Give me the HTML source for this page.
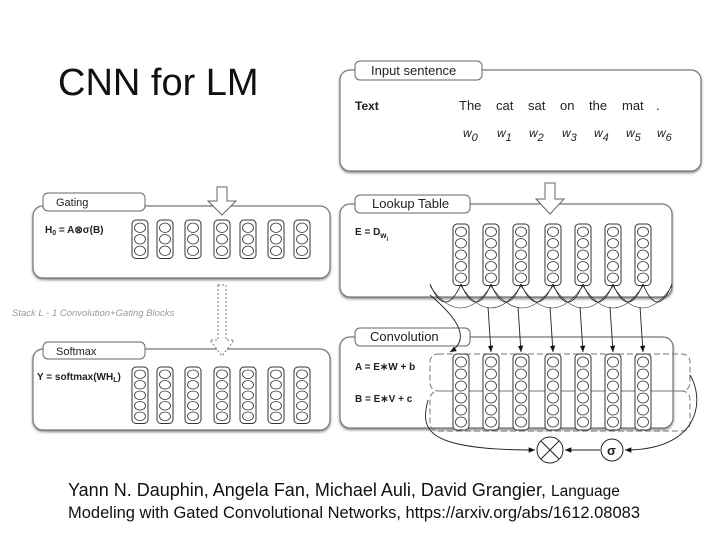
<!DOCTYPE html>
<html><head><meta charset="utf-8"><style>
body{margin:0;background:#fff;width:720px;height:540px;overflow:hidden}
svg{display:block}
text{font-family:"Liberation Sans",sans-serif}
</style></head><body>
<svg id="s" width="720" height="540" viewBox="0 0 720 540">
<defs>
<marker id="ah" markerWidth="8" markerHeight="8" refX="7" refY="4" orient="auto"><path d="M0,1 L7,4 L0,7 z" fill="#111"/></marker>
<filter id="sh" x="-5%" y="-5%" width="110%" height="115%"><feDropShadow dx="0" dy="1.5" stdDeviation="1.2" flood-color="#888"/></filter>
</defs>
<text x="58" y="95" font-size="38" fill="#111">CNN for LM</text>

<g fill="#fff" stroke="#777" stroke-width="1.2" filter="url(#sh)">
<rect x="340" y="70" width="361" height="101" rx="10"/>
<rect x="340" y="204" width="332" height="93" rx="10"/>
<rect x="340" y="337" width="333" height="91" rx="10"/>
<rect x="33" y="206" width="297" height="72" rx="10"/>
<rect x="33" y="349" width="297" height="81" rx="10"/>
</g>
<g fill="#fff" stroke="#666" stroke-width="1">
<rect x="355" y="61" width="127" height="19" rx="5"/>
<rect x="355" y="195" width="115" height="18" rx="5"/>
<rect x="355" y="328" width="115" height="18" rx="5"/>
<rect x="43" y="193" width="102" height="18" rx="5"/>
<rect x="43" y="342" width="102" height="17" rx="5"/>
</g>
<g font-size="13" fill="#222">
<text x="371" y="75">Input sentence</text>
<text x="372" y="208">Lookup Table</text>
<text x="370" y="341">Convolution</text>
<text x="56" y="206" font-size="11">Gating</text>
<text x="56" y="355" font-size="11">Softmax</text>
</g>
<g font-size="13" fill="#222">
<text x="355" y="110" font-weight="bold" font-size="12">Text</text>
<text x="459" y="110">The</text><text x="496" y="110">cat</text><text x="528" y="110">sat</text>
<text x="560" y="110">on</text><text x="589" y="110">the</text><text x="622" y="110">mat</text><text x="656" y="110">.</text>
</g>
<g font-size="12" fill="#222" font-style="italic" id="ws"></g>
<g font-size="10" font-weight="bold" fill="#222">
<text x="355" y="235">E = D<tspan font-size="8" dy="3">w</tspan><tspan font-size="6" dy="3">i</tspan></text>
<text x="355" y="370">A = E∗W + b</text>
<text x="355" y="402">B = E∗V + c</text>
<text x="45" y="233">H<tspan font-size="7" dy="2">0</tspan><tspan dy="-2"> = A⊗σ(B)</tspan></text>
<text x="37" y="380">Y = softmax(WH<tspan font-size="7" dy="2">L</tspan><tspan dy="-2">)</tspan></text>
</g>
<text x="12" y="316" font-size="9.5" font-style="italic" fill="#999">Stack L - 1 Convolution+Gating Blocks</text>

<g fill="#fff" stroke="#666" stroke-width="1">
<path d="M545,183 L555,183 L555,199 L564,199 L550,214 L536,199 L545,199 z"/>
<path d="M217,187 L227,187 L227,201 L236,201 L222,215 L208,201 L217,201 z"/>
</g>
<path d="M218,285 L226,285 L226,340 L234,340 L222,356 L210,340 L218,340 z" fill="#fff" stroke="#777" stroke-width="1" stroke-dasharray="2,2"/>

<g fill="none" stroke="#777" stroke-dasharray="6,3" stroke-width="1">
<rect x="430" y="354" width="260" height="37" rx="8"/>
<rect x="430" y="391" width="260" height="40" rx="8"/>
</g>
<g id="cols"></g>
<g id="arcs" fill="none" stroke="#222" stroke-width="0.9"></g>
<g fill="#fff" stroke="#222" stroke-width="1">
<circle cx="550" cy="450" r="13"/>
<circle cx="612" cy="450" r="11"/>
</g>
<path d="M541,441 L559,459 M559,441 L541,459" stroke="#222"/>
<text x="607" y="455" font-size="13" font-weight="bold" fill="#222">σ</text>
<g fill="none" stroke="#222" stroke-width="0.9">
<path d="M428,400 C420,430 425,450 535,450" marker-end="url(#ah)"/>
<path d="M600,450 L565,450" marker-end="url(#ah)"/>
<path d="M690,375 C705,400 700,450 625,450" marker-end="url(#ah)"/>
</g>
<text x="68" y="496" font-size="18" fill="#111">Yann N. Dauphin, Angela Fan, Michael Auli, David Grangier, <tspan font-size="15.5">Language</tspan></text>
<text x="68" y="518" font-size="16.5" fill="#111">Modeling with Gated Convolutional Networks, https://arxiv.org/abs/1612.08083</text>
</svg>
<script>
const NS="http://www.w3.org/2000/svg";
function el(p,t,a,txt){const e=document.createElementNS(NS,t);for(const k in a)e.setAttribute(k,a[k]);if(txt)e.textContent=txt;p.appendChild(e);return e;}
const ws=document.getElementById('ws');
const wx=[463,497,529,562,594,626,657];
wx.forEach((x,i)=>{const t=el(ws,'text',{x:x,y:137},'w');el(t,'tspan',{dy:4,'font-size':11},String(i));});
const cols=document.getElementById('cols');
function col(cx,y0,n,step){el(cols,'rect',{x:cx-8,y:y0,width:16,height:n*step+4,rx:4,fill:'#fff',stroke:'#333','stroke-width':1});
for(let i=0;i<n;i++)el(cols,'ellipse',{cx:cx,cy:y0+2+step/2+i*step,rx:5.5,ry:step/2-1,fill:'#fff',stroke:'#333','stroke-width':0.8});}
const R=[461,491,521,553,583,613,643];
R.forEach(x=>{col(x,224,5,11.5);col(x,354,6,12);});
const L=[140,165,193,222,248,276,302];
L.forEach(x=>col(x,220,3,11.5));
L.forEach(x=>col(x,367,5,10.5));
const arcs=document.getElementById('arcs');
const pts=[430].concat(R).concat([672]);
for(let i=0;i<pts.length-1;i++){const a=pts[i],b=pts[i+1];el(arcs,'path',{d:`M${a},284 Q${(a+b)/2},320 ${b},284`});}
for(let i=0;i<pts.length-2;i++){const a=pts[i],b=pts[i+2];el(arcs,'path',{d:`M${a},286 Q${(a+b)/2},330 ${b},286`,'stroke-width':0.6});}
R.forEach((x,i)=>{if(i>0)el(arcs,'path',{d:`M${x-3},307 L${x},352`,'marker-end':'url(#ah)'});});
el(arcs,'path',{d:'M430,295 C460,320 470,340 450,352','marker-end':'url(#ah)'});
</script>
</body></html>
